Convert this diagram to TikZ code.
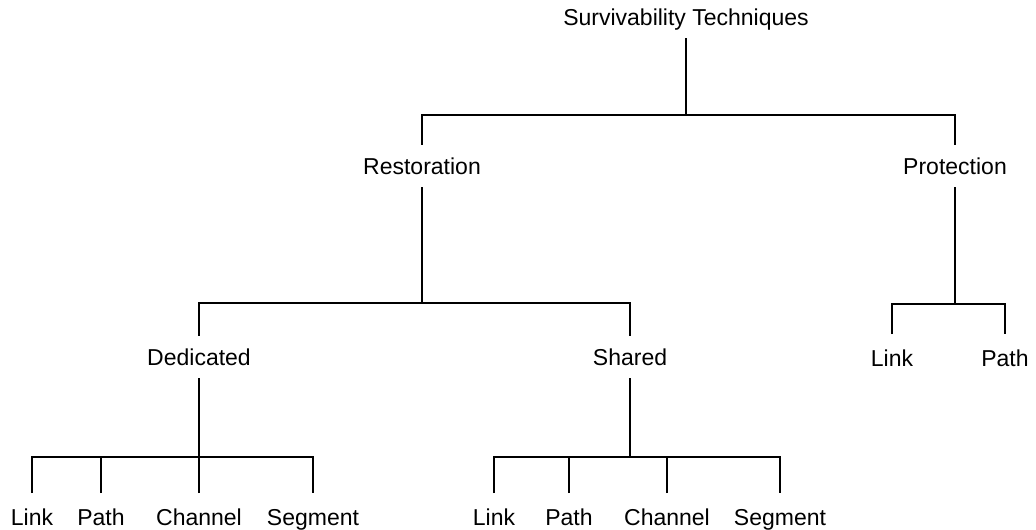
\documentclass[tikz,border=0pt]{standalone}
\usepackage{fontspec}
\setmainfont{Liberation Sans}
\usepackage{tikz}
\tikzset{
  branch/.style={draw=black, line width=0.7pt},
  lab/.style={font=\fontsize{11.5pt}{13pt}\selectfont, text height=8.2pt, text depth=0pt,
    inner xsep=1pt, inner ysep=6.4pt},
  leaf/.style={lab, inner ysep=7.6pt},
}
\begin{document}
\begin{tikzpicture}[x=0.5pt,y=-0.5pt]
  \useasboundingbox (0,0) rectangle (1036,529);

  \node[lab] (surv) at (686,17) {Survivability Techniques};
  \node[lab] (rest) at (422,166) {Restoration};
  \node[lab] (prot) at (955,166) {Protection};
  \node[lab] (ded) at (199,357) {Dedicated};
  \node[lab] (shr) at (630,357) {Shared};
  \node[leaf] (plink) at (892,358) {Link};
  \node[leaf] (ppath) at (1005,358) {Path};

  \node[leaf] (dlink) at (32,517) {Link};
  \node[leaf] (dpath) at (101,517) {Path};
  \node[leaf] (dchan) at (199,517) {Channel};
  \node[leaf] (dseg) at (313,517) {Segment};
  \node[leaf] (slink) at (494,517) {Link};
  \node[leaf] (spath) at (569,517) {Path};
  \node[leaf] (schan) at (667,517) {Channel};
  \node[leaf] (sseg) at (780,517) {Segment};

  \coordinate (jsurv) at (686,115);
  \coordinate (jrest) at (422,303);
  \coordinate (jprot) at (955,304);
  \coordinate (jded) at (199,457);
  \coordinate (jshr) at (630,457);

  \draw[branch] (surv) -- (jsurv);
  \draw[branch] (rest) |- (jsurv) -| (prot);
  \draw[branch] (rest) -- (jrest);
  \draw[branch] (ded) |- (jrest) -| (shr);
  \draw[branch] (prot) -- (jprot);
  \draw[branch] (plink) |- (jprot) -| (ppath);

  \draw[branch] (ded) -- (jded);
  \draw[branch] (dlink) |- (jded) -| (dseg);
  \foreach \n in {dpath,dchan}
    \draw[branch] (\n) -- (\n |- jded);

  \draw[branch] (shr) -- (jshr);
  \draw[branch] (slink) |- (jshr) -| (sseg);
  \foreach \n in {spath,schan}
    \draw[branch] (\n) -- (\n |- jshr);
\end{tikzpicture}
\end{document}
